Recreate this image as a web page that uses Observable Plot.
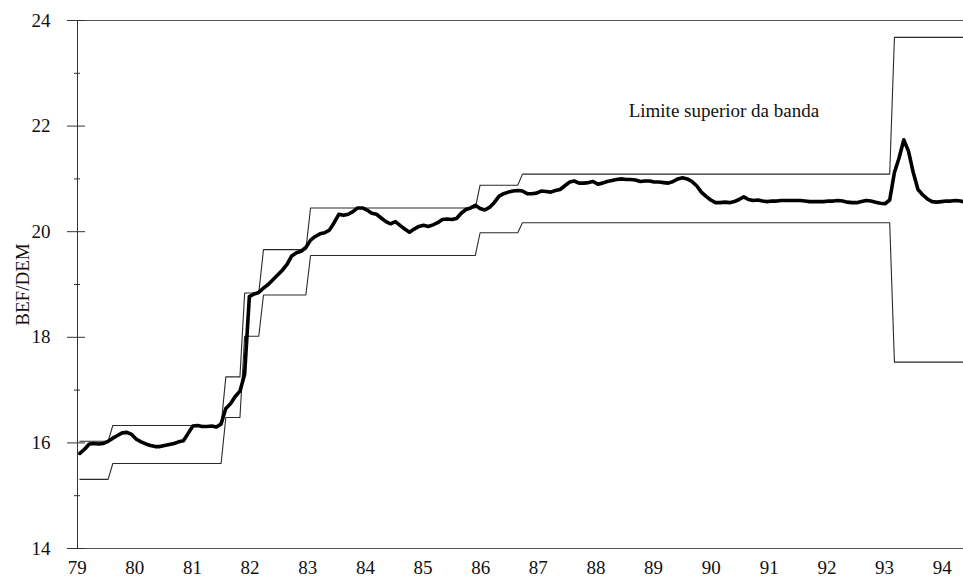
<!DOCTYPE html>
<html><head><meta charset="utf-8">
<script src="https://cdn.jsdelivr.net/npm/d3@7"></script>
<script src="https://cdn.jsdelivr.net/npm/@observablehq/plot@0.6"></script>
<style>html,body{margin:0;padding:0;background:#fff}svg{display:block}</style>
</head><body><div id="chart"></div>
<script>
// Monthly BEF/DEM rate, March 1979 – November 1994
const startYear = 1979, startMonth = 3;
const rate = [
15.80,15.88,15.98,15.99,15.98,15.99,16.03,16.09,16.14,16.19,
16.20,16.16,16.07,16.02,15.98,15.95,15.93,15.93,15.95,15.97,
15.99,16.02,16.04,16.18,16.32,16.33,16.31,16.31,16.32,16.30,
16.36,16.65,16.74,16.88,16.98,17.30,18.77,18.82,18.85,18.93,
19.00,19.09,19.18,19.27,19.38,19.54,19.60,19.63,19.70,19.84,
19.91,19.96,19.98,20.03,20.17,20.33,20.31,20.33,20.38,20.45,
20.45,20.41,20.35,20.33,20.26,20.19,20.15,20.19,20.12,20.05,
19.99,20.05,20.10,20.12,20.10,20.13,20.17,20.23,20.24,20.23,
20.25,20.35,20.42,20.45,20.50,20.44,20.41,20.46,20.55,20.67,
20.72,20.75,20.77,20.78,20.77,20.72,20.72,20.73,20.77,20.76,
20.75,20.78,20.80,20.87,20.94,20.96,20.92,20.92,20.93,20.95,
20.90,20.92,20.95,20.97,20.99,21.00,20.99,20.99,20.98,20.95,
20.96,20.96,20.94,20.94,20.93,20.92,20.95,21.00,21.02,21.00,
20.95,20.87,20.75,20.67,20.60,20.55,20.55,20.56,20.55,20.57,
20.61,20.66,20.61,20.59,20.60,20.58,20.57,20.58,20.58,20.59,
20.59,20.59,20.59,20.59,20.58,20.57,20.57,20.57,20.57,20.58,
20.58,20.59,20.58,20.56,20.55,20.55,20.57,20.59,20.58,20.56,
20.54,20.53,20.60,21.12,21.40,21.74,21.52,21.12,20.80,20.70,
20.62,20.57,20.56,20.57,20.58,20.58,20.59,20.58,20.56
];
// Band limits (piecewise constant, each from the given month)
const bandFrom  = ["1979-03","1979-10","1981-10","1982-02","1982-06","1983-04","1986-04","1987-01","1993-08"];
const bandUpper = [16.03, 16.33, 17.25, 18.84, 19.66, 20.45, 20.88, 21.09, 23.68];
const bandLower = [15.31, 15.61, 16.48, 18.02, 18.80, 19.55, 19.98, 20.17, 17.53];

const yMajor = [14, 16, 18, 20, 22, 24];
const yMinor = [15, 17, 19, 21, 23];
const xTickLabels = ["79","80","81","82","83","84","85","86","87","88","89","90","91","92","93","94"];
const xTickPos = [1979.12,1980.14,1981.16,1982.18,1983.20,1984.22,1985.24,1986.26,1987.28,1988.30,1989.32,1990.34,1991.37,1992.39,1993.41,1994.43];
const annotationText = "Limite superior da banda";
const annotationAt = {x: 1988.88, y: 22.28};
const yTitle = "BEF/DEM";

// build table
const bandIdx = bandFrom.map(s => { const [y, m] = s.split("-").map(Number); return (y - startYear) * 12 + (m - startMonth); });
const rows = rate.map((v, i) => {
  let b = 0;
  for (let k = 0; k < bandIdx.length; k++) if (i >= bandIdx[k]) b = k;
  return { t: startYear + (startMonth - 1 + i) / 12, rate: v, upper: bandUpper[b], lower: bandLower[b] };
});
const labelMap = new Map(xTickPos.map((p, i) => [p, xTickLabels[i]]));
const xDomain = [1979.125, 1994.806];

const chart = Plot.plot({
  width: 963, height: 583,
  marginLeft: 77, marginRight: 0, marginTop: 20, marginBottom: 35,
  style: {fontFamily: "'Liberation Serif','Times New Roman',serif", fontSize: "19px", background: "#fff", color: "#111"},
  x: {domain: xDomain},
  y: {domain: [14, 24]},
  marks: [
    Plot.ruleY([24], {stroke: "#555", strokeWidth: 1.2}),
    Plot.ruleY([14], {stroke: "#555", strokeWidth: 1.2}),
    Plot.ruleX([xDomain[0]], {stroke: "#333", strokeWidth: 1}),
    Plot.axisY(yMajor, {tickSize: 10, tickPadding: 17, tickFormat: d => String(d), label: null, stroke: "#333"}),
    Plot.axisY(yMajor, {tickSize: -8, tickFormat: () => "", label: null, stroke: "#333"}),
    Plot.axisY(yMinor, {tickSize: 3, tickFormat: () => "", label: null, stroke: "#333"}),
    Plot.axisY(yMinor, {tickSize: -3, tickFormat: () => "", label: null, stroke: "#333"}),
    Plot.axisX(xTickPos, {tickSize: 0, tickPadding: 12, tickFormat: d => labelMap.get(d), label: null}),
    Plot.line(rows, {x: "t", y: "upper", stroke: "#2a2a2a", strokeWidth: 1.1, clip: true}),
    Plot.line(rows, {x: "t", y: "lower", stroke: "#2a2a2a", strokeWidth: 1.1, clip: true}),
    Plot.line(rows, {x: "t", y: "rate", stroke: "#000", strokeWidth: 3.6, strokeLinejoin: "round", clip: true}),
    Plot.text([annotationText], {x: () => annotationAt.x, y: () => annotationAt.y, text: d => d, textAnchor: "start", fontSize: 19, fill: "#111"}),
    Plot.text([yTitle], {frameAnchor: "left", textAnchor: "middle", dx: -55, rotate: -90, text: d => d, fontSize: 19, fill: "#111"})
  ]
});
document.getElementById("chart").appendChild(chart);
</script>
</body></html>
